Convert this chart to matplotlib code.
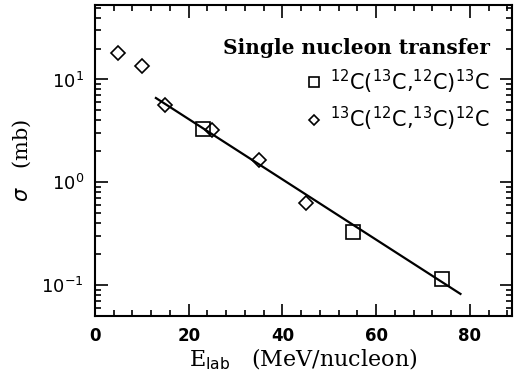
import matplotlib
matplotlib.use("Agg")
import matplotlib.pyplot as plt
from matplotlib.ticker import MultipleLocator, LogLocator, NullFormatter, FixedLocator

# Data
sq_x = [23, 55, 74]
sq_y = [3.3, 0.33, 0.115]
di_x = [5, 10, 15, 25, 35, 45]
di_y = [18.1, 13.5, 5.6, 3.25, 1.65, 0.625]
fit_x = [13, 78]
fit_y = [6.6, 0.082]

sq_label = r'$^{12}$C($^{13}$C,$^{12}$C)$^{13}$C'
di_label = r'$^{13}$C($^{12}$C,$^{13}$C)$^{12}$C'
legend_title = 'Single nucleon transfer'

fig = plt.figure(figsize=(5.14, 3.77), dpi=100)
ax = fig.add_axes([95/514, 1-316/377, (512-95)/514, (316-5)/377])

ax.plot(fit_x, fit_y, color='black', lw=1.6)
ax.plot(sq_x, sq_y, 's', ms=10, mfc='none', mec='black', mew=1.2, label=sq_label)
ax.plot(di_x, di_y, 'D', ms=7, mfc='none', mec='black', mew=1.2, label=di_label)

ax.set_yscale('log')
ax.set_xlim(0, 89)
ax.set_ylim(0.05, 53)

ax.xaxis.set_major_locator(MultipleLocator(20))
ax.xaxis.set_minor_locator(MultipleLocator(4))
ax.yaxis.set_major_locator(FixedLocator([0.1, 1, 10]))
ax.yaxis.set_minor_locator(LogLocator(base=10, subs=range(2, 10)))
ax.yaxis.set_minor_formatter(NullFormatter())
ax.set_yticklabels([r'$10^{-1}$', r'$10^{0}$', r'$10^{1}$'])

ax.tick_params(which='both', direction='in', top=True, right=True, width=1.2)
ax.tick_params(which='major', length=9, labelsize=12, pad=8)
ax.tick_params(axis='y', which='major', labelsize=13)
ax.tick_params(which='minor', length=4)
for lbl in ax.get_xticklabels() + ax.get_yticklabels():
    lbl.set_fontweight('bold')
for s in ax.spines.values():
    s.set_linewidth(1.5)

ax.set_xlabel(r'E$_{\rm lab}$   (MeV/nucleon)', family='DejaVu Serif', fontsize=16, labelpad=1)
ax.set_ylabel(r'$\sigma$   (mb)', family='DejaVu Serif', fontsize=15, labelpad=6)

leg = ax.legend(loc='upper right', bbox_to_anchor=(0.947, 0.894), frameon=False,
                title=legend_title, fontsize=15, handletextpad=0.3,
                labelspacing=0.45, borderaxespad=0, borderpad=0, handlelength=1.0,
                alignment='right', markerscale=0.75)
leg.get_title().set_fontsize(14.5)
leg.get_title().set_fontweight('bold')
leg.get_title().set_family('DejaVu Serif')

fig.savefig('out.png', dpi=100)
